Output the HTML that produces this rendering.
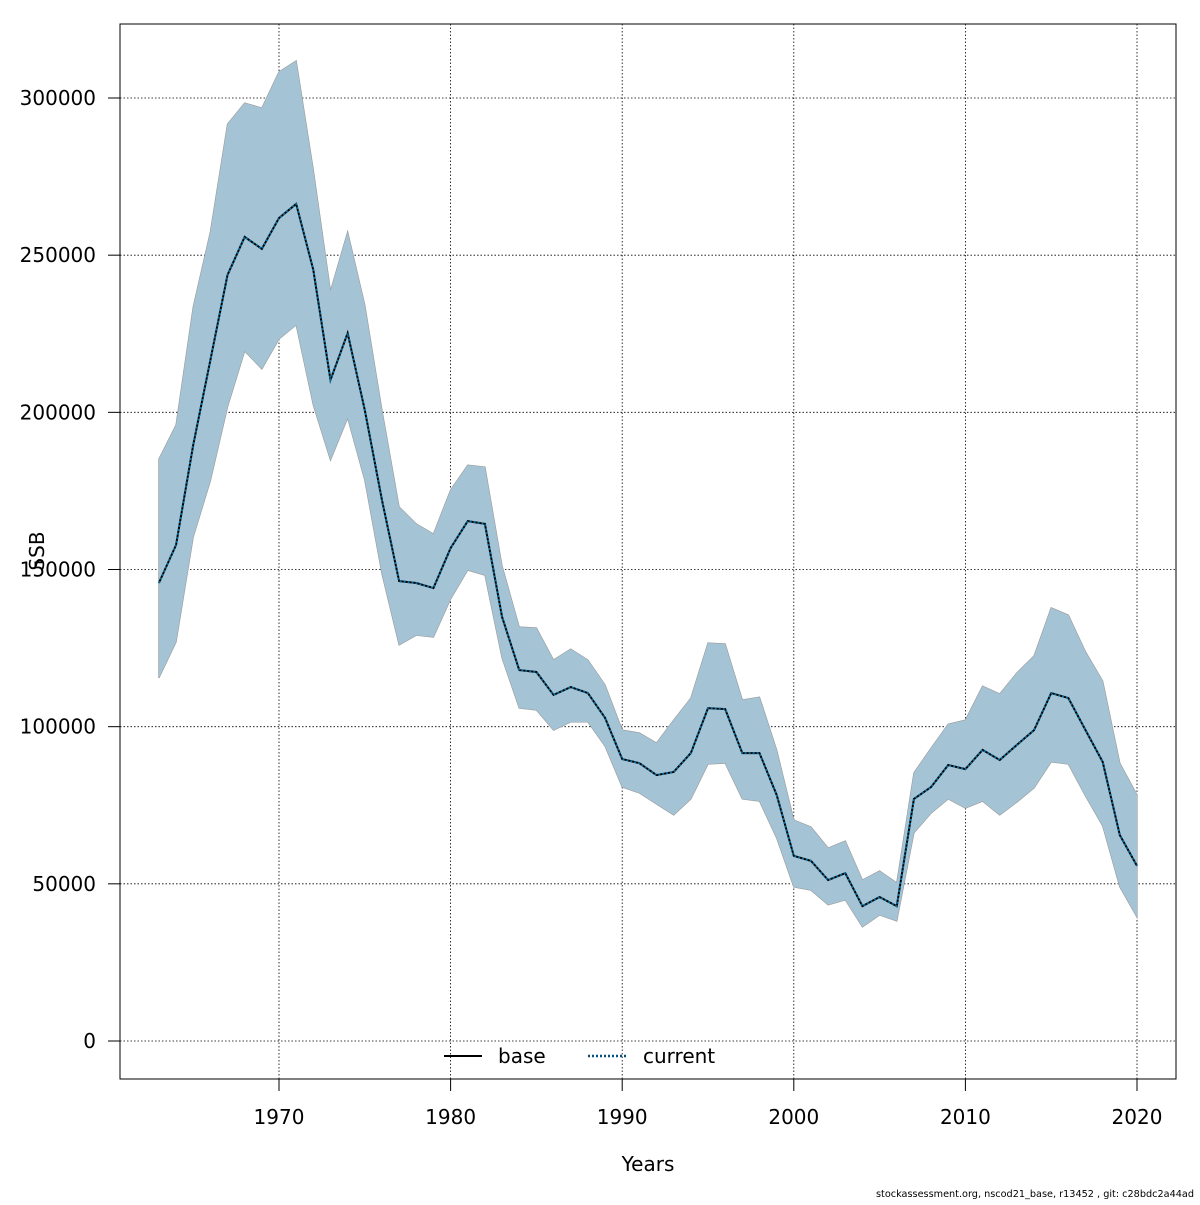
<!DOCTYPE html>
<html><head><meta charset="utf-8"><style>
body{margin:0;background:#fff}
svg text{font-family:"DejaVu Sans","Liberation Sans",sans-serif}
</style></head><body>
<svg id="chart" width="1200" height="1200" xmlns="http://www.w3.org/2000/svg">
<g id="grid"></g>
<g id="bands"></g>
<g id="lines"></g>
<g id="axes"></g>
<rect x="120" y="24" width="1056" height="1055" fill="none" stroke="#000" stroke-width="1"/>
<text transform="translate(44,551) rotate(-90)" text-anchor="middle" font-size="20">SSB</text>
<text x="648" y="1171" text-anchor="middle" font-size="20">Years</text>
<g>
<line x1="444" y1="1056" x2="482" y2="1056" stroke="#000" stroke-width="2"/>
<text x="498" y="1063" font-size="20">base</text>
<line x1="588" y1="1056" x2="626" y2="1056" stroke="#05507a" stroke-width="2.5" stroke-dasharray="2,2"/>
<text x="643" y="1063" font-size="20">current</text>
</g>
<text x="1194" y="1197" text-anchor="end" font-size="10" textLength="318" lengthAdjust="spacingAndGlyphs">stockassessment.org, nscod21_base, r13452 , git: c28bdc2a44ad</text>
</svg>
<script>
const years=[];for(let y=1963;y<=2020;y++)years.push(y);
const ssbMean=[145700,157800,189600,216600,243700,255800,252000,261800,266300,245300,210300,225200,200700,172100,146300,145700,144100,156800,165400,164500,134900,118000,117400,110100,112600,110700,102800,89700,88400,84600,85600,91600,105900,105600,91600,91600,78300,58900,57300,51200,53400,42900,45800,42900,77000,80800,87800,86500,92600,89400,94200,98900,110700,109100,98900,88800,65500,55700];
const ssbUpper=[185100,196000,233500,257400,291700,298400,296800,308300,311800,277100,238600,257400,234100,200700,169900,164500,161300,175300,183200,182600,151100,131700,131400,121200,124700,121200,113300,98900,98000,94800,102100,109100,126600,126300,108500,109400,92600,70300,68100,61400,63600,51200,54100,50300,85300,93200,100800,102100,112900,110400,117100,122500,137800,135500,123800,114500,88400,78300];
const ssbLower=[115500,126900,160300,178200,201700,219500,213800,223300,227800,202300,184800,198200,178400,148600,126000,129100,128500,140600,149800,148200,121800,105900,105300,98900,101500,101500,93800,80800,78900,75400,71900,77000,88100,88400,77000,76300,64600,49000,48000,43300,44900,36300,40100,38200,66200,72500,77000,74100,76300,71900,76000,80500,88800,88100,77900,68400,49000,39400];
const xTicks=[1970,1980,1990,2000,2010,2020];
const yTicks=[0,50000,100000,150000,200000,250000,300000];
const NS="http://www.w3.org/2000/svg";
const X=y=>279+(y-1970)*(1137-279)/50;
const Y=v=>1041-v*943/300000;
function mk(tag,attrs,parent){const e=document.createElementNS(NS,tag);for(const k in attrs)e.setAttribute(k,attrs[k]);parent.appendChild(e);return e;}
const grid=document.getElementById('grid'),axes=document.getElementById('axes');
xTicks.forEach(t=>{
 const l=mk('line',{x1:X(t),x2:X(t),y1:24,y2:1079,stroke:'#000','stroke-width':0.8,'stroke-dasharray':'1.5,2'},grid);
 
 
 const tk=mk('line',{x1:X(t),x2:X(t),y1:1079,y2:1091,stroke:'#000'},axes);
 
 
 const tx=mk('text',{x:X(t),y:1124,'text-anchor':'middle','font-size':20},axes);tx.textContent=t;
 
 
});
yTicks.forEach(t=>{
 const l=mk('line',{x1:120,x2:1176,y1:Y(t),y2:Y(t),stroke:'#000','stroke-width':0.8,'stroke-dasharray':'1.5,2'},grid);
 
 
 const tk=mk('line',{x1:108,x2:120,y1:Y(t),y2:Y(t),stroke:'#000'},axes);
 
 
 const tx=mk('text',{x:96,y:Y(t)+7,'text-anchor':'end','font-size':20},axes);tx.textContent=t;
 
 
});
const bands=document.getElementById('bands');
let d='M'+years.map((y,i)=>X(y)+','+Y(ssbUpper[i])).join('L');
for(let i=years.length-1;i>=0;i--)d+='L'+X(years[i])+','+Y(ssbLower[i]);
d+='Z';
const b1=mk('path',{d:d,fill:'rgb(164,196,214)',stroke:'#9a9a9a','stroke-width':1.2},bands);


const b2=mk('path',{d:d,fill:'rgb(164,196,214)',stroke:'none'},bands);


const lines=document.getElementById('lines');
const pts=years.map((y,i)=>X(y)+','+Y(ssbMean[i])).join(' ');
const l1=mk('polyline',{points:pts,fill:'none',stroke:'#000','stroke-width':2},lines);


const l2=mk('polyline',{points:pts,fill:'none',stroke:'#0a6a9a','stroke-width':2,'stroke-dasharray':'2,2'},lines);


</script>
</body></html>
